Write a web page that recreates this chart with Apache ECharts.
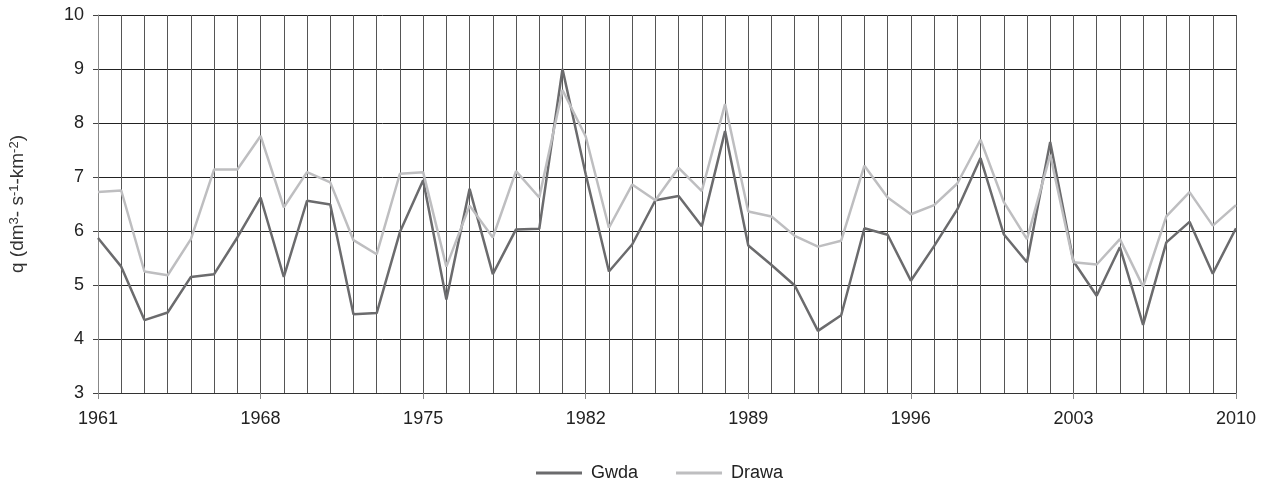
<!DOCTYPE html>
<html>
<head>
<meta charset="utf-8">
<script src="https://cdn.jsdelivr.net/npm/echarts@6/dist/echarts.min.js"></script>
<style>
  html, body { margin: 0; padding: 0; background: #fff; }
  #chart { width: 1266px; height: 483px; }
</style>
</head>
<body>
<div id="chart"></div>
<script>
// years 1961-2010
const years = [];
for (let y = 1961; y <= 2010; y++) years.push(String(y));

// q values
const gwda = [
  5.87, 5.34, 4.35, 4.49, 5.15, 5.20, 5.88, 6.62, 5.15, 6.56,
  6.49, 4.46, 4.48, 5.98, 6.94, 4.73, 6.78, 5.20, 6.03, 6.04,
  9.00, 7.05, 5.25, 5.75, 6.57, 6.65, 6.09, 7.85, 5.73, 5.37,
  4.99, 4.15, 4.44, 6.05, 5.93, 5.08, 5.72, 6.40, 7.35, 5.94,
  5.42, 7.65, 5.44, 4.80, 5.70, 4.26, 5.79, 6.17, 5.21, 6.05
];
const drawa = [
  6.72, 6.75, 5.25, 5.18, 5.85, 7.14, 7.14, 7.76, 6.44, 7.09,
  6.90, 5.83, 5.57, 7.06, 7.09, 5.34, 6.47, 5.88, 7.11, 6.62,
  8.61, 7.75, 6.06, 6.86, 6.57, 7.17, 6.74, 8.35, 6.36, 6.27,
  5.91, 5.71, 5.82, 7.21, 6.62, 6.31, 6.48, 6.88, 7.69, 6.54,
  5.85, 7.41, 5.42, 5.38, 5.85, 4.97, 6.27, 6.72, 6.10, 6.48
];

const chart = echarts.init(document.getElementById("chart"));
const option = {
  animation: false,
  textStyle: { fontFamily: "Liberation Sans, Arial, sans-serif" },
  grid: { left: 97, right: 30, top: 15, bottom: 90 },
  legend: {
    left: 536,
    top: 464,
    padding: 0,
    itemWidth: 46,
    itemHeight: 3,
    itemGap: 38,
    icon: "rect",
    textStyle: { fontSize: 18, color: "#222", padding: [0, 0, 0, 4] },
    data: ["Gwda", "Drawa"]
  },
  xAxis: {
    type: "category",
    boundaryGap: false,
    data: years,
    axisLine: { lineStyle: { color: "#333", width: 1 } },
    axisTick: { interval: 6, length: 6, lineStyle: { color: "#888" } },
    axisLabel: { interval: 6, fontSize: 18, color: "#222", margin: 17 },
    splitLine: { show: true, interval: 0, lineStyle: { color: "#555", width: 1 } }
  },
  yAxis: {
    type: "value",
    min: 3,
    max: 10,
    interval: 1,
    // q (dm3- s-1-km-2) with superscripts
    name: "q (dm{sup|3}- s{sup|-1}-km{sup|-2})",
    nameLocation: "middle",
    nameGap: 70,
    nameRotate: 90,
    nameTextStyle: {
      fontSize: 19,
      color: "#333",
      rich: {
        sup: { fontSize: 13, color: "#333", verticalAlign: "top", padding: [0, 0, 7, 0] }
      }
    },
    axisLine: { show: true, lineStyle: { color: "#888", width: 1 } },
    axisTick: { show: true, length: 5, lineStyle: { color: "#444" } },
    axisLabel: { fontSize: 18, color: "#222", margin: 14 },
    splitLine: { show: true, lineStyle: { color: "#222", width: 1 } }
  },
  series: [
    {
      name: "Gwda",
      type: "line",
      data: gwda,
      showSymbol: false,
      symbol: "none",
      color: "#6b6b6d",
      lineStyle: { color: "#6b6b6d", width: 2.5 }
    },
    {
      name: "Drawa",
      type: "line",
      data: drawa,
      showSymbol: false,
      symbol: "none",
      color: "#bebec0",
      lineStyle: { color: "#bebec0", width: 2.5 }
    }
  ]
};
chart.setOption(option);
</script>
</body>
</html>
